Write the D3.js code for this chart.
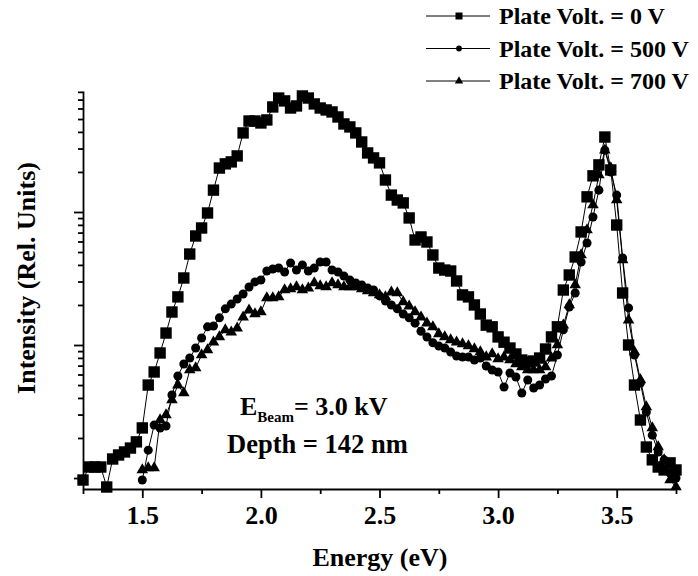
<!DOCTYPE html>
<html>
<head>
<meta charset="UTF-8">
<title>Intensity vs Energy</title>
<script src="https://d3js.org/d3.v7.min.js"></script>
<style>
    body { margin: 0; background: #fff; }
    svg { font-family: "Liberation Serif", "Times New Roman", serif; font-weight: bold; }
</style>
</head>
<body>
<svg id="chart"></svg>
<script>
// energy grid (eV)
const energy = [
    1.25, 1.275, 1.3, 1.325, 1.35, 1.375, 1.4, 1.425, 1.45, 1.475,
    1.5, 1.525, 1.55, 1.575, 1.6, 1.625, 1.65, 1.675, 1.7, 1.725,
    1.75, 1.775, 1.8, 1.825, 1.85, 1.875, 1.9, 1.925, 1.95, 1.975,
    2.0, 2.025, 2.05, 2.075, 2.1, 2.125, 2.15, 2.175, 2.2, 2.225,
    2.25, 2.275, 2.3, 2.325, 2.35, 2.375, 2.4, 2.425, 2.45, 2.475,
    2.5, 2.525, 2.55, 2.575, 2.6, 2.625, 2.65, 2.675, 2.7, 2.725,
    2.75, 2.775, 2.8, 2.825, 2.85, 2.875, 2.9, 2.925, 2.95, 2.975,
    3.0, 3.025, 3.05, 3.075, 3.1, 3.125, 3.15, 3.175, 3.2, 3.225,
    3.25, 3.275, 3.3, 3.325, 3.35, 3.375, 3.4, 3.425, 3.45, 3.475,
    3.5, 3.525, 3.55, 3.575, 3.6, 3.625, 3.65, 3.675, 3.7, 3.725,
    3.75
];
// plate voltage 500 V and 700 V start at 1.5 eV
const energyPV = energy.slice(10);

const plate0V = [
    0.966, 1.21, 1.21, 1.21, 0.856, 1.39, 1.49, 1.57, 1.68, 1.87,
    2.38, 5.00, 6.27, 8.71, 12.3, 17.7, 23.0, 31.9, 48.3, 66.0,
    75.8, 98.3, 146, 214, 230, 238, 264, 393, 483, 483,
    467, 492, 616, 719, 684, 605, 627, 745, 719, 649,
    605, 585, 565, 518, 459, 436, 393, 336, 278, 255,
    234, 174, 134, 123, 117, 90.2, 61.6, 64.9, 59.5, 47.5,
    37.9, 36.6, 36.0, 30.3, 23.8, 23.0, 20.0, 17.1, 14.1, 13.7,
    11.5, 10.5, 9.49, 8.56, 7.71, 7.45, 7.58, 7.98, 9.33, 11.5,
    13.7, 25.9, 33.6, 45.9, 70.8, 130, 187, 226, 366, 207,
    79.8, 24.6, 10.0, 5.00, 2.73, 1.71, 1.37, 1.21, 1.15, 1.30,
    1.15
];
const plate500V = [
    0.966, 1.62, 2.50, 2.38, 2.46, 4.21, 5.85, 7.20, 7.98, 9.49,
    11.3, 13.7, 13.9, 16.0, 18.7, 20.3, 22.2, 24.2, 27.3, 29.8,
    30.8, 36.0, 37.3, 37.9, 35.4, 41.4, 36.6, 40.0, 36.0, 37.9,
    42.1, 42.1, 36.6, 35.4, 33.0, 30.8, 29.3, 28.3, 26.8, 25.9,
    23.4, 21.4, 20.0, 18.7, 17.1, 16.0, 14.6, 12.7, 11.5, 10.4,
    9.83, 9.49, 8.86, 8.27, 8.12, 8.12, 7.71, 7.98, 6.95, 6.49,
    6.27, 4.83, 6.16, 5.75, 4.36, 5.46, 4.75, 5.00, 5.55, 5.85,
    8.41, 13.0, 19.3, 24.6, 42.1, 58.5, 91.7, 146, 292, 200,
    134, 45.1, 19.0, 8.41, 5.18, 3.13, 2.10, 1.57, 1.37, 1.09,
    1.00
];
const plate700V = [
    1.15, 1.19, 1.19, 2.73, 2.98, 3.86, 5.00, 4.36, 6.49, 6.72,
    8.41, 9.17, 10.5, 11.5, 13.0, 12.5, 13.4, 16.2, 18.3, 17.1,
    17.7, 22.6, 22.6, 23.0, 25.9, 26.4, 27.3, 25.9, 26.8, 29.3,
    27.8, 27.3, 29.3, 28.3, 27.3, 27.3, 27.3, 26.4, 25.5, 24.6,
    23.8, 23.0, 25.0, 24.6, 21.1, 19.6, 17.7, 16.2, 14.6, 13.7,
    12.1, 11.5, 10.9, 10.5, 10.2, 9.83, 9.33, 8.86, 8.12, 8.56,
    7.85, 8.12, 7.71, 7.20, 6.83, 6.49, 6.49, 6.49, 6.83, 7.98,
    10.0, 14.1, 20.0, 28.3, 47.5, 73.3, 113, 190, 292, 214,
    123, 43.6, 15.4, 8.86, 5.46, 3.42, 2.38, 1.71, 1.37, 0.966,
    0.856
];

const xTicks = [1.5, 2.0, 2.5, 3.0, 3.5];
const xMinorTicks = [1.25, 1.75, 2.25, 2.75, 3.25, 3.75];
const yTicks = [1, 10, 100];
const yMinorTicks = [2, 3, 4, 5, 6, 7, 8, 9, 20, 30, 40, 50, 60, 70, 80, 90,
                     200, 300, 400, 500, 600, 700, 800];
const legendLabels = ["Plate Volt. = 0 V", "Plate Volt. = 500 V", "Plate Volt. = 700 V"];

const width = 698, height = 576;
const svg = d3.select("#chart").attr("width", width).attr("height", height);

const x = d3.scaleLinear().domain([1.25, 3.75]).range([83, 676]);
const y = d3.scaleLog().domain([0.827, 812]).range([489, 91]);

// axes
const gx = svg.append("g").attr("transform", "translate(0,489)")
    .call(d3.axisBottom(x).tickValues(xTicks).tickFormat(d3.format(".1f")).tickSize(9).tickSizeOuter(0));
svg.append("g").attr("transform", "translate(0,489)")
    .call(d3.axisBottom(x).tickValues(xMinorTicks).tickFormat("").tickSize(5).tickSizeOuter(0))
    .select(".domain").remove();
gx.selectAll("text").attr("font-size", 26).attr("font-family", "Liberation Serif")
    .attr("font-weight", "bold").attr("dy", "0.85em").attr("y", 13);

svg.append("g").attr("transform", "translate(83,0)")
    .call(d3.axisLeft(y).tickValues(yTicks).tickFormat("").tickSize(9).tickSizeOuter(0));
svg.append("g").attr("transform", "translate(83,0)")
    .call(d3.axisLeft(y).tickValues(yMinorTicks).tickFormat("").tickSize(5).tickSizeOuter(0))
    .select(".domain").remove();

svg.selectAll(".domain, .tick line").attr("stroke", "#000").attr("stroke-width", 1.8);

// series (drawn back to front)
const series = [
    {name: legendLabels[2], xs: energyPV, ys: plate700V, symbol: d3.symbolTriangle, size: 58, legSize: 30},
    {name: legendLabels[1], xs: energyPV, ys: plate500V, symbol: d3.symbolCircle, size: 64, legSize: 26},
    {name: legendLabels[0], xs: energy, ys: plate0V, symbol: d3.symbolSquare, size: 130, legSize: 49}
];

const line = d3.line().x(d => x(d[0])).y(d => y(d[1]));

series.forEach(s => {
    const pts = s.xs.map((e, i) => [e, s.ys[i]]);
    svg.append("path").datum(pts).attr("d", line)
        .attr("fill", "none").attr("stroke", "#000").attr("stroke-width", 1);
    svg.append("g").selectAll("path").data(pts).enter().append("path")
        .attr("d", d3.symbol().type(s.symbol).size(s.size))
        .attr("transform", d => `translate(${x(d[0])},${y(d[1])})`)
        .attr("fill", "#000");
});

// legend
const legendRows = [series[2], series[1], series[0]];
const leg = svg.append("g");
legendRows.forEach((s, i) => {
    const cy = 16 + i * 32.5;
    leg.append("line").attr("x1", 426).attr("x2", 490).attr("y1", cy).attr("y2", cy)
        .attr("stroke", "#000").attr("stroke-width", 1);
    leg.append("path").attr("d", d3.symbol().type(s.symbol).size(s.legSize))
        .attr("transform", `translate(459,${cy})`).attr("fill", "#000");
    leg.append("text").attr("x", 499).attr("y", cy + 8)
        .attr("font-size", 24).text(s.name);
});

// annotation
const ann = svg.append("text").attr("x", 240).attr("y", 415).attr("font-size", 26);
ann.append("tspan").text("E");
ann.append("tspan").attr("font-size", 15).attr("dy", 7).text("Beam");
ann.append("tspan").attr("dy", -7).text("= 3.0 kV");
svg.append("text").attr("x", 227).attr("y", 453).attr("font-size", 26.5).text("Depth = 142 nm");

// axis titles
svg.append("text").attr("x", 380).attr("y", 566).attr("text-anchor", "middle")
    .attr("font-size", 26).text("Energy (eV)");
svg.append("text").attr("transform", "translate(35,278) rotate(-90)")
    .attr("text-anchor", "middle").attr("font-size", 26).text("Intensity (Rel. Units)");
</script>
</body>
</html>
